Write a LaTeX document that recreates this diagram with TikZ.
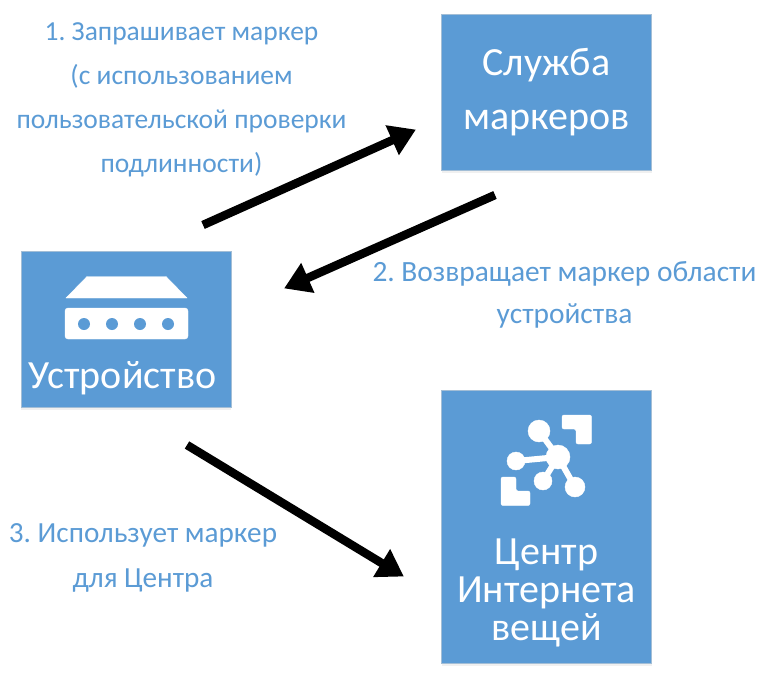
\documentclass[tikz,border=0pt]{standalone}
\usepackage{fontspec}
\setmainfont{Carlito}
\usepackage{xcolor}
\definecolor{azureblue}{RGB}{91, 155, 213}
\usetikzlibrary{arrows.meta, positioning, shadows}
\frenchspacing

\begin{document}
\begin{tikzpicture}[x=1pt, y=-1pt,
        unitbox/.style={rectangle, fill=azureblue, draw=azureblue!70!gray!60, line width=0.5pt, inner sep=0pt, minimum width=210pt, align=center, text=white, font=\fontsize{40}{54}\selectfont, drop shadow={opacity=0.12, shadow xshift=0pt, shadow yshift=-3pt}},
        tag/.style={text=azureblue, align=center, inner sep=0pt},
        glyph/.style={fill=white, draw=white},
        line/.style={draw=black, line width=8.5pt, -{Triangle[length=26pt, width=31pt]}, shorten >=-1pt}]
        \useasboundingbox (0,0) rectangle (780,678);

        \node [unitbox, minimum height=156pt] (service) at (546.5,92) {Служба\\маркеров};
        \node [unitbox, minimum height=156pt] (device) at (126,329) {};
        \node [unitbox, minimum height=273pt] (hub) at (546.5,526.5) {};

        \node [text=white, inner sep=0pt, font=\fontsize{40}{44}\selectfont] (devicename) at (122.5,378) {Устройство};
        \node [text=white, inner sep=0pt, align=center, font=\fontsize{40}{38}\selectfont] (hubname) at (546.5,593) {Центр\\Интернета\\вещей};

        % device icon
        \fill [glyph] (66,298) -- (87,276.5) -- (166,276.5) -- (187,298) -- cycle;
        \fill [glyph, rounded corners=3pt] (65,308) rectangle (188,339);
        \foreach \x in {84,112,140,168}
            \fill [azureblue] (\x,324) circle (6);

        % hub icon
        \draw [white, line width=6pt] (558,457) -- (539,431);
        \draw [white, line width=6pt] (558,457) -- (516,461);
        \draw [white, line width=6pt] (558,457) -- (543,481);
        \draw [white, line width=6pt] (558,457) -- (575,487);
        \fill [glyph] (558,457) circle (12);
        \fill [glyph] (539,431) circle (11);
        \fill [glyph] (516,461) circle (9);
        \fill [glyph] (543,481) circle (9);
        \fill [glyph] (575,487) circle (10);
        \fill [glyph, rounded corners=2pt] (562,415) -- (591.5,415) -- (591.5,444) -- (576,444) -- (576,429) -- (562,429) -- cycle;
        \fill [glyph, rounded corners=2pt] (501,477) -- (516,477) -- (516,491) -- (530,491) -- (530,505.5) -- (501,505.5) -- cycle;

        \node [tag, font=\fontsize{27.5}{44}\selectfont] (request) at (181.5,100) {1. Запрашивает маркер\\(с использованием\\пользовательской проверки\\подлинности)};
        \node [tag, font=\fontsize{29.4}{42}\selectfont] (reply) at (564.5,294.5) {2. Возвращает маркер области\\устройства};
        \node [tag, font=\fontsize{29.2}{45}\selectfont] (use) at (143,558) {3. Использует маркер\\для Центра};

        \coordinate (requestfrom) at (203,225);
        \coordinate (requestto) at (415,130);
        \coordinate (replyfrom) at (495,195);
        \coordinate (replyto) at (285,288);
        \coordinate (usefrom) at (187,445);
        \coordinate (useto) at (403,576);

        \path [line] (requestfrom) -- (requestto);
        \path [line] (replyfrom) -- (replyto);
        \path [line] (usefrom) -- (useto);
    \end{tikzpicture}
\end{document}
